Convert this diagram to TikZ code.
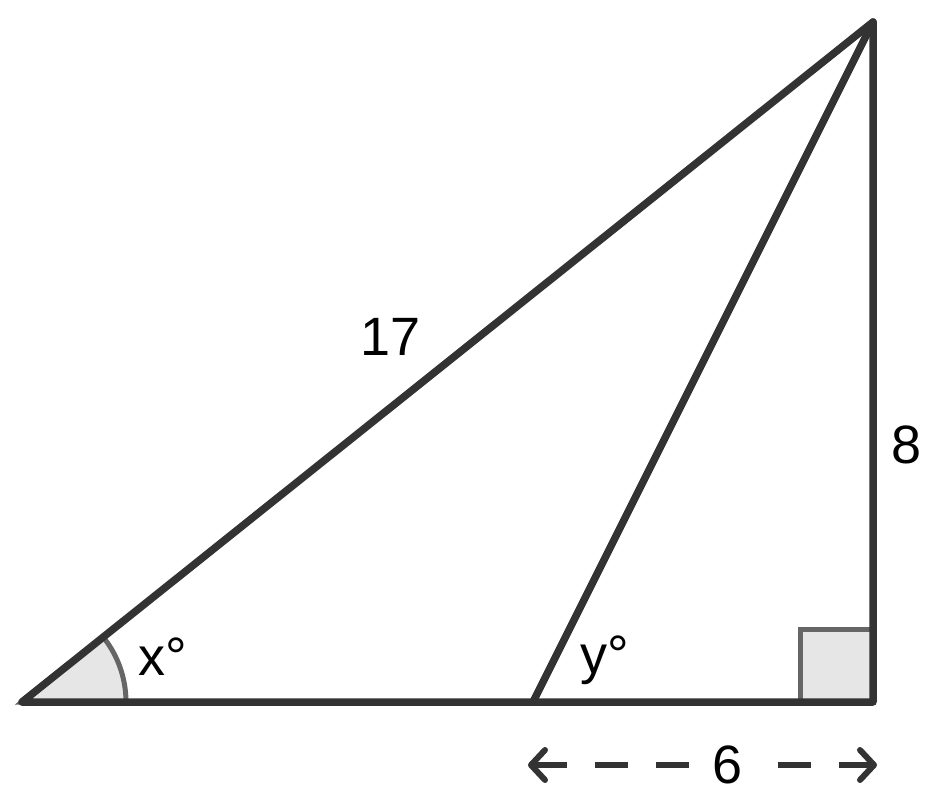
\documentclass[tikz,border=0pt]{standalone}
\usepackage{fontspec}
\setmainfont{Liberation Sans}
\usetikzlibrary{arrows.meta}
\definecolor{ink}{HTML}{333333}
\definecolor{mark}{HTML}{666666}
\definecolor{shade}{HTML}{E6E6E6}
\begin{document}
\begin{tikzpicture}[x=1pt,y=-1pt,
  side/.style={draw=ink,line width=7.5pt,line cap=round,line join=round},
  anglemark/.style={draw=mark,fill=shade,line width=5pt},
  lbl/.style={font=\fontsize{54}{60}\selectfont,inner sep=0pt},
  dim/.style={draw=ink,line width=6pt,dash pattern=on 33pt off 28pt,
    {Straight Barb[length=14pt,width=30pt,line width=6pt,round]}-{Straight Barb[length=14pt,width=30pt,line width=6pt,round]}}]
\useasboundingbox (0,0) rectangle (942,805);
\coordinate (A) at (22,702);
\coordinate (B) at (533,702);
\coordinate (C) at (873,702);
\coordinate (D) at (873,22);
% angle marks
\filldraw[anglemark] (A) -- ++(104,0) arc[start angle=0,end angle=-38.63,radius=104] -- cycle;
\filldraw[anglemark] (C) rectangle ++(-73,-73);
% sides
\draw[side] (A) -- (C) -- (D) -- cycle;
\draw[side] (B) -- (D);
% labels
\node[lbl] (l17) at (391,337) {17};
\node[lbl] (l8) at (907,445) {8};
\node[lbl] (lx) at (163,657) {x°};
\node[lbl] (ly) at (605,660) {y°};
% dimension
\coordinate (dl) at (528,765);
\coordinate (dr) at (877,765);
\draw[dim] (dl) -- (dr);
\node[lbl,fill=white,inner xsep=12pt] (l6) at (728,765) {6};
\end{tikzpicture}
\end{document}
